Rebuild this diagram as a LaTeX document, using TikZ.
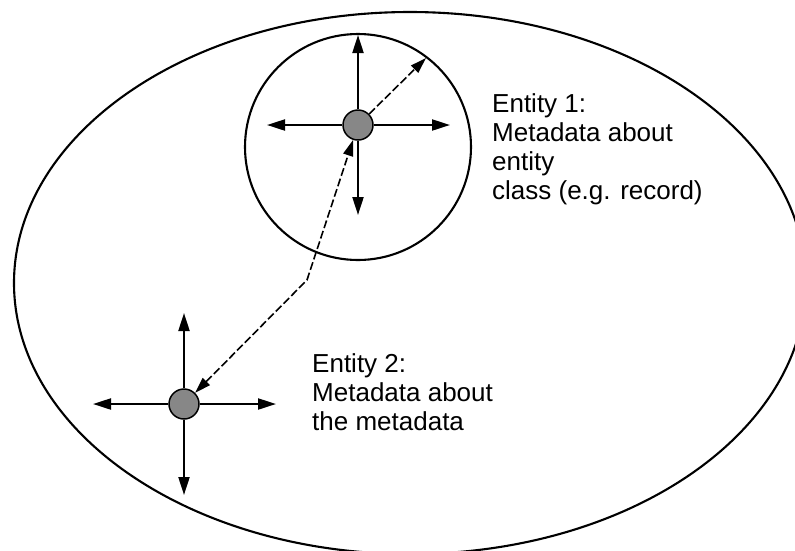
\documentclass[tikz,border=0pt]{standalone}
\usepackage{fontspec}
\setmainfont{Liberation Sans}
\usetikzlibrary{arrows.meta}
\definecolor{nodegray}{RGB}{135,135,135}
\tikzset{
  ent/.style={circle, draw=black, line width=1.5pt, fill=nodegray, minimum size=30pt, inner sep=0pt},
  solidarr/.style={line width=2.1pt, -{Triangle[length=18pt,width=11pt]}},
  dasharr/.style={line width=1.6pt, dash pattern=on 8pt off 3pt},
  lbl/.style={font=\fontsize{26}{29}\selectfont, align=left, anchor=north west, inner sep=0pt}
}
\begin{document}
\begin{tikzpicture}[x=1pt,y=-1pt]
\useasboundingbox (0,0) rectangle (795,550);
\clip (0,0) rectangle (795,550);
\fill[white] (0,0) rectangle (795,550);
% outer ellipse
\draw[line width=2.1pt] (410,283) ellipse [x radius=396, y radius=271];
% small circle
\draw[line width=2.1pt] (358,147) circle [radius=113];
% entity nodes
\node[ent] (n1) at (358,125) {};
\node[ent] (n2) at (184,404) {};
% free ends
\coordinate (n1up) at (358,35);
\coordinate (n1down) at (358,215);
\coordinate (n1left) at (267,125);
\coordinate (n1right) at (450,125);
\coordinate (n1ne) at (426,58);
\coordinate (n2up) at (184,313);
\coordinate (n2down) at (184,495);
\coordinate (n2left) at (93,404);
\coordinate (n2right) at (276,404);
\coordinate (bend) at (307,280);
% solid arrows
\draw[solidarr] (n1) -- (n1up);
\draw[solidarr] (n1) -- (n1down);
\draw[solidarr] (n1) -- (n1left);
\draw[solidarr] (n1) -- (n1right);
\draw[solidarr] (n2) -- (n2up);
\draw[solidarr] (n2) -- (n2down);
\draw[solidarr] (n2) -- (n2left);
\draw[solidarr] (n2) -- (n2right);
% dashed arrows
\draw[dasharr, -{Triangle[length=16pt,width=10pt]}] (n1) -- (n1ne);
\draw[dasharr, {Triangle[length=16pt,width=10pt]}-{Triangle[length=16pt,width=10pt]}] (n2) -- (bend) -- (n1);
% labels
\node[lbl] (t1) at (492,93) {Entity 1:\\Metadata about\\entity\\class (e.g. record)};
\node[lbl] (t2) at (312,353) {Entity 2:\\Metadata about\\the metadata};
\end{tikzpicture}
\end{document}
